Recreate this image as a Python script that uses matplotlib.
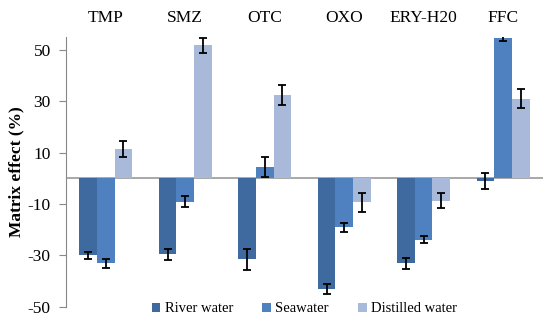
import numpy as np
from matplotlib import pyplot as plt

compounds = ["TMP", "SMZ", "OTC", "OXO", "ERY-H20", "FFC"]
series = ["River water", "Seawater", "Distilled water"]

river = [-30, -29.5, -31.5, -43, -33, -1]
river_err = [1.4, 2.2, 4, 1.8, 2.2, 3.2]
sea = [-33, -9, 4.5, -19, -23.8, 54.7]
sea_err = [1.7, 2.2, 3.8, 1.7, 1.5, 1.3]
distilled = [11.4, 51.8, 32.4, -9.2, -8.6, 31]
distilled_err = [3, 3, 3.9, 3.7, 2.8, 3.7]

colors = ["#3f6a9f", "#4f80bf", "#a8b9da"]

plt.rcParams['font.family'] = ['Liberation Serif', 'DejaVu Serif']
plt.rcParams['axes.unicode_minus'] = False

fig = plt.figure(figsize=(5.5, 3.2), dpi=100)
ax = fig.add_axes([0.12, 0.041, 0.867, 0.843])

x = np.arange(len(compounds))
w = 0.222
for i, (vals, errs) in enumerate([(river, river_err), (sea, sea_err), (distilled, distilled_err)]):
    ax.bar(x + (i - 1) * w, vals, width=w, color=colors[i], label=series[i],
           yerr=errs, capsize=3, error_kw=dict(elinewidth=1.3, capthick=1.3, ecolor="black"))

ax.axhline(0, color="#999999", linewidth=1.2, zorder=0.5)
ax.set_xlim(-0.5, len(compounds) - 0.5)
ax.set_ylim(-50, 55)
ax.set_yticks([50, 30, 10, -10, -30, -50])
ax.tick_params(axis="y", direction="out", length=5, color="#888888", labelsize=12.5, pad=6)

ax.xaxis.tick_top()
ax.set_xticks(x)
ax.set_xticklabels(compounds, fontsize=12.5)
ax.tick_params(axis="x", length=0, pad=8)

for s in ["top", "right", "bottom"]:
    ax.spines[s].set_visible(False)
ax.spines["left"].set_color("#888888")

ax.set_ylabel("Matrix effect (%)", fontsize=12.5, fontweight="bold", labelpad=2)

ax.legend(loc="lower center", bbox_to_anchor=(0.5, -0.08), ncol=3, frameon=False,
          fontsize=10.5, handlelength=0.6, handleheight=0.6, handletextpad=0.3, columnspacing=2.0)

plt.savefig("out.png", dpi=100)
